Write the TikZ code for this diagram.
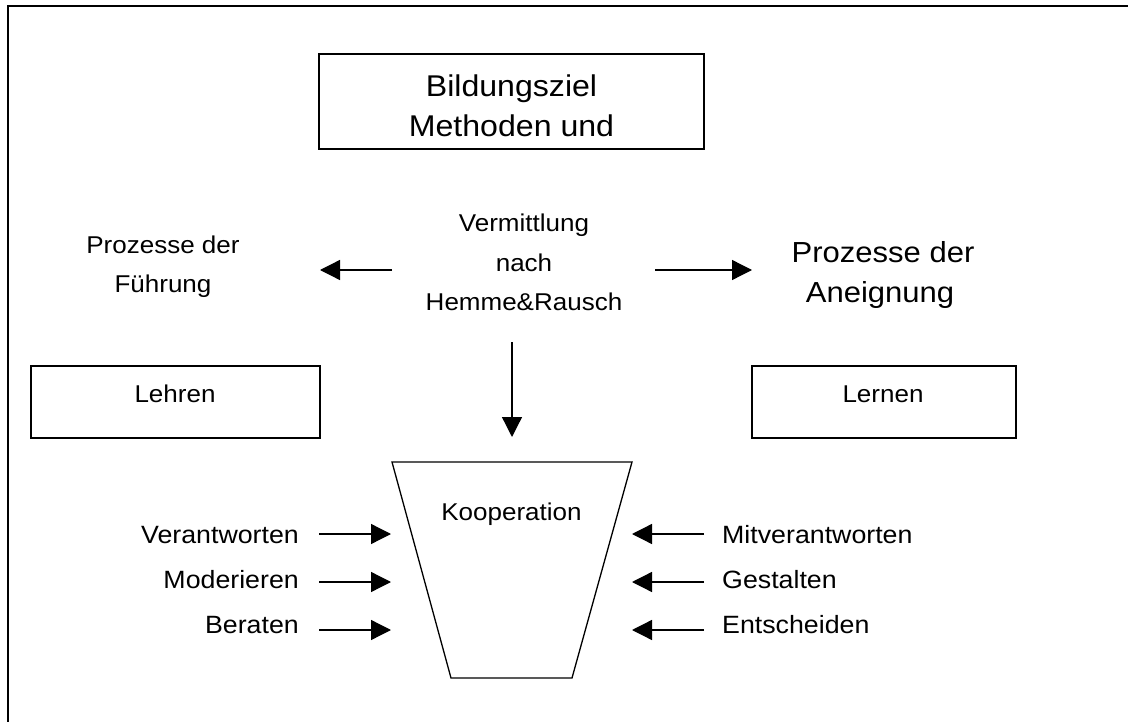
\documentclass[tikz,border=0pt]{standalone}
\usepackage{fontspec}
\setmainfont{Liberation Sans}
\usetikzlibrary{arrows.meta}
\newcommand{\hs}[1]{\scalebox{1.07}[1]{#1}}
\begin{document}
\begin{tikzpicture}[x=1pt,y=-1pt,
  frame/.style={line width=2pt},
  box/.style={draw, line width=1.5pt},
  lbl/.style={inner sep=0pt, font=\fontsize{24.3}{28}\selectfont},
  side/.style={inner sep=0pt, font=\fontsize{25}{29}\selectfont},
  big/.style={inner sep=0pt, font=\fontsize{30}{36}\selectfont},
  arr/.style={line width=1.3pt, -{Triangle[length=20pt,width=20pt]}},
  trap/.style={line width=1.3pt, line join=miter}
]
\useasboundingbox (0,0) rectangle (1128,722);
% outer frame (cut by the picture's right and bottom edges)
\draw[frame] (7.5,722) -- (7.5,6.5) -- (1128,6.5);

% top box
\draw[box] (319,54) rectangle (704,149);
\node[big, anchor=base] (ziel1) at (511.5,97) {\hs{Bildungsziel}};
\node[big, anchor=base] (ziel2) at (511.5,137) {\hs{Methoden und}};

% centre text
\node[lbl, anchor=base] (verm1) at (524,232) {\hs{Vermittlung}};
\node[lbl, anchor=base] (verm2) at (524,272) {\hs{nach}};
\node[lbl, anchor=base] (verm3) at (524,311) {\hs{Hemme\&Rausch}};

% left process
\node[lbl, anchor=base] (fue1) at (163,254) {\hs{Prozesse der}};
\node[lbl, anchor=base] (fue2) at (163,293) {\hs{Führung}};

% right process (descenders cut off as in the original)
\node[big, anchor=base, font=\fontsize{29}{34}\selectfont] (ane1) at (883,263) {\hs{Prozesse der}};
\begin{scope}
\clip (760,280) rectangle (1010,309);
\node[big, anchor=base, font=\fontsize{29}{34}\selectfont] (ane2) at (880,303) {\hs{Aneignung}};
\end{scope}

% arrows from the centre
\coordinate (la0) at (392,270); \coordinate (la1) at (320,270);
\coordinate (ra0) at (655,270); \coordinate (ra1) at (752,270);
\coordinate (da0) at (512,342); \coordinate (da1) at (512,437);
\draw[arr] (la0) -- (la1);
\draw[arr] (ra0) -- (ra1);
\draw[arr] (da0) -- (da1);

% Lehren / Lernen boxes
\draw[box] (31,366) rectangle (320,438);
\node[lbl, anchor=base] (lehren) at (175,402) {\hs{Lehren}};
\draw[box] (752,366) rectangle (1016,438);
\node[lbl, anchor=base] (lernen) at (883,402) {\hs{Lernen}};

% trapezoid
\draw[trap] (392,462) -- (632,462) -- (572,678) -- (451,678) -- cycle;
\node[lbl, anchor=base] (koop) at (511.5,520) {\hs{Kooperation}};

% left side labels and arrows
\node[side, anchor=base east] (l1) at (299,543) {\hs{Verantworten}};
\node[side, anchor=base east] (l2) at (299,588) {\hs{Moderieren}};
\node[side, anchor=base east] (l3) at (299,633) {\hs{Beraten}};
\coordinate (l1a) at (319,534); \coordinate (l1b) at (391,534);
\coordinate (l2a) at (319,582); \coordinate (l2b) at (391,582);
\coordinate (l3a) at (319,630); \coordinate (l3b) at (391,630);
\draw[arr] (l1a) -- (l1b);
\draw[arr] (l2a) -- (l2b);
\draw[arr] (l3a) -- (l3b);

% right side labels and arrows
\node[side, anchor=base west] (r1) at (722,543) {\hs{Mitverantworten}};
\node[side, anchor=base west] (r2) at (722,588) {\hs{Gestalten}};
\node[side, anchor=base west] (r3) at (722,633) {\hs{Entscheiden}};
\coordinate (r1a) at (704,534); \coordinate (r1b) at (632,534);
\coordinate (r2a) at (704,582); \coordinate (r2b) at (632,582);
\coordinate (r3a) at (704,630); \coordinate (r3b) at (632,630);
\draw[arr] (r1a) -- (r1b);
\draw[arr] (r2a) -- (r2b);
\draw[arr] (r3a) -- (r3b);
\end{tikzpicture}
\end{document}
